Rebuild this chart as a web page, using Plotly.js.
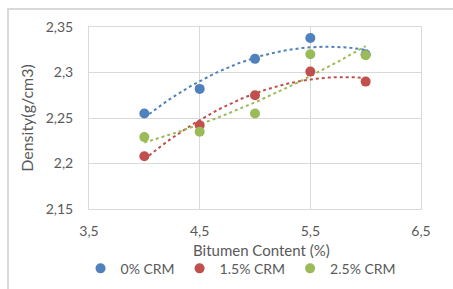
<!DOCTYPE html>
<html><head><meta charset="utf-8">
<script src="https://cdn.plot.ly/plotly-3.0.1.min.js"></script>
<style>
html,body{margin:0;padding:0;background:#fff;}
#frame{position:absolute;left:7px;top:8px;width:470px;height:300px;border:2px solid #d9d9d9;box-sizing:border-box;}
#chart{position:absolute;left:0;top:0;width:453px;height:289px;}
</style></head>
<body>
<div id="frame"></div>
<div id="chart"></div>
<script>
const bitumen = [4, 4.5, 5, 5.5, 6];
const crm0 = [2.255, 2.282, 2.315, 2.338, 2.320];
const crm15 = [2.208, 2.242, 2.275, 2.301, 2.290];
const crm25 = [2.229, 2.235, 2.255, 2.320, 2.319];
const seriesNames = ['0% CRM', '1.5% CRM', '2.5% CRM'];
const seriesColors = ['#4F81BD', '#C0504D', '#9BBB59'];
const xTickVals = [3.5, 4.5, 5.5, 6.5];
const xTickText = ['3,5', '4,5', '5,5', '6,5'];
const yTickVals = [2.15, 2.2, 2.25, 2.3, 2.35];
const yTickText = ['2,15', '2,2', '2,25', '2,3', '2,35'];
const xTitle = 'Bitumen Content (%)';
const yTitle = 'Density(g/cm3)';

function polyfit2(xs, ys) {
  // least squares quadratic fit (Excel polynomial trendline, order 2)
  let n = xs.length, s = [0,0,0,0,0], t = [0,0,0];
  for (let i = 0; i < n; i++) {
    let p = 1;
    for (let k = 0; k < 5; k++) { s[k] += p; if (k < 3) t[k] += p * ys[i]; p *= xs[i]; }
  }
  const A = [[s[0],s[1],s[2],t[0]],[s[1],s[2],s[3],t[1]],[s[2],s[3],s[4],t[2]]];
  for (let i = 0; i < 3; i++) {
    for (let j = i+1; j < 3; j++) {
      const f = A[j][i]/A[i][i];
      for (let k = i; k < 4; k++) A[j][k] -= f*A[i][k];
    }
  }
  const c = [0,0,0];
  for (let i = 2; i >= 0; i--) {
    let v = A[i][3];
    for (let k = i+1; k < 3; k++) v -= A[i][k]*c[k];
    c[i] = v/A[i][i];
  }
  return c;
}

const allSeries = [crm0, crm15, crm25];
const traces = [];
allSeries.forEach((ys, i) => {
  const c = polyfit2(bitumen, ys);
  const x0 = bitumen[0], x1 = bitumen[bitumen.length-1];
  const tx = [], ty = [];
  for (let k = 0; k <= 60; k++) {
    const x = x0 + (x1 - x0) * k / 60;
    tx.push(x); ty.push(c[0] + c[1]*x + c[2]*x*x);
  }
  traces.push({x: tx, y: ty, mode: 'lines', type: 'scatter', showlegend: false, hoverinfo: 'skip',
    line: {color: seriesColors[i], width: 2, dash: 'dot'}});
});
allSeries.forEach((ys, i) => {
  traces.push({x: bitumen, y: ys, mode: 'markers', type: 'scatter', name: seriesNames[i],
    marker: {color: seriesColors[i], size: 10}});
});

const fontFam = 'Lato, "Open Sans", sans-serif';
const layout = {
  width: 453, height: 289,
  margin: {l: 89, r: 32, t: 27, b: 80},
  paper_bgcolor: 'rgba(0,0,0,0)', plot_bgcolor: '#fff',
  separators: ', ',
  font: {family: fontFam, color: '#595959', size: 14},
  xaxis: {range: [3.5, 6.5], tickvals: xTickVals, ticktext: xTickText,
    showgrid: true, gridcolor: '#d9d9d9', gridwidth: 1, zeroline: false,
    showline: true, mirror: true, linecolor: '#d9d9d9', linewidth: 1,
    ticks: 'outside', ticklen: 9, tickcolor: 'rgba(0,0,0,0)', tickfont: {size: 14, color: '#595959'}},
  yaxis: {range: [2.15, 2.35], tickvals: yTickVals, ticktext: yTickText,
    showgrid: true, gridcolor: '#d9d9d9', gridwidth: 1, zeroline: false,
    showline: true, mirror: true, linecolor: '#d9d9d9', linewidth: 1,
    ticks: 'outside', ticklen: 12, tickcolor: 'rgba(0,0,0,0)', tickfont: {size: 14, color: '#595959'},
    title: {text: yTitle, font: {size: 16, color: '#595959'}, standoff: 8}},
  annotations: [{text: xTitle, xref: 'paper', yref: 'paper', x: 0.52, y: 0, xanchor: 'center', yanchor: 'middle',
    yshift: -41, showarrow: false, font: {size: 15, color: '#595959'}}],
  legend: {orientation: 'h', x: 0.458, xanchor: 'center', yref: 'container', y: 0.07, yanchor: 'middle',
    font: {size: 14, color: '#595959'}, itemwidth: 30, bgcolor: 'rgba(0,0,0,0)'},
  showlegend: true
};
Plotly.newPlot('chart', traces, layout, {displayModeBar: false, staticPlot: true});
</script>
</body></html>
